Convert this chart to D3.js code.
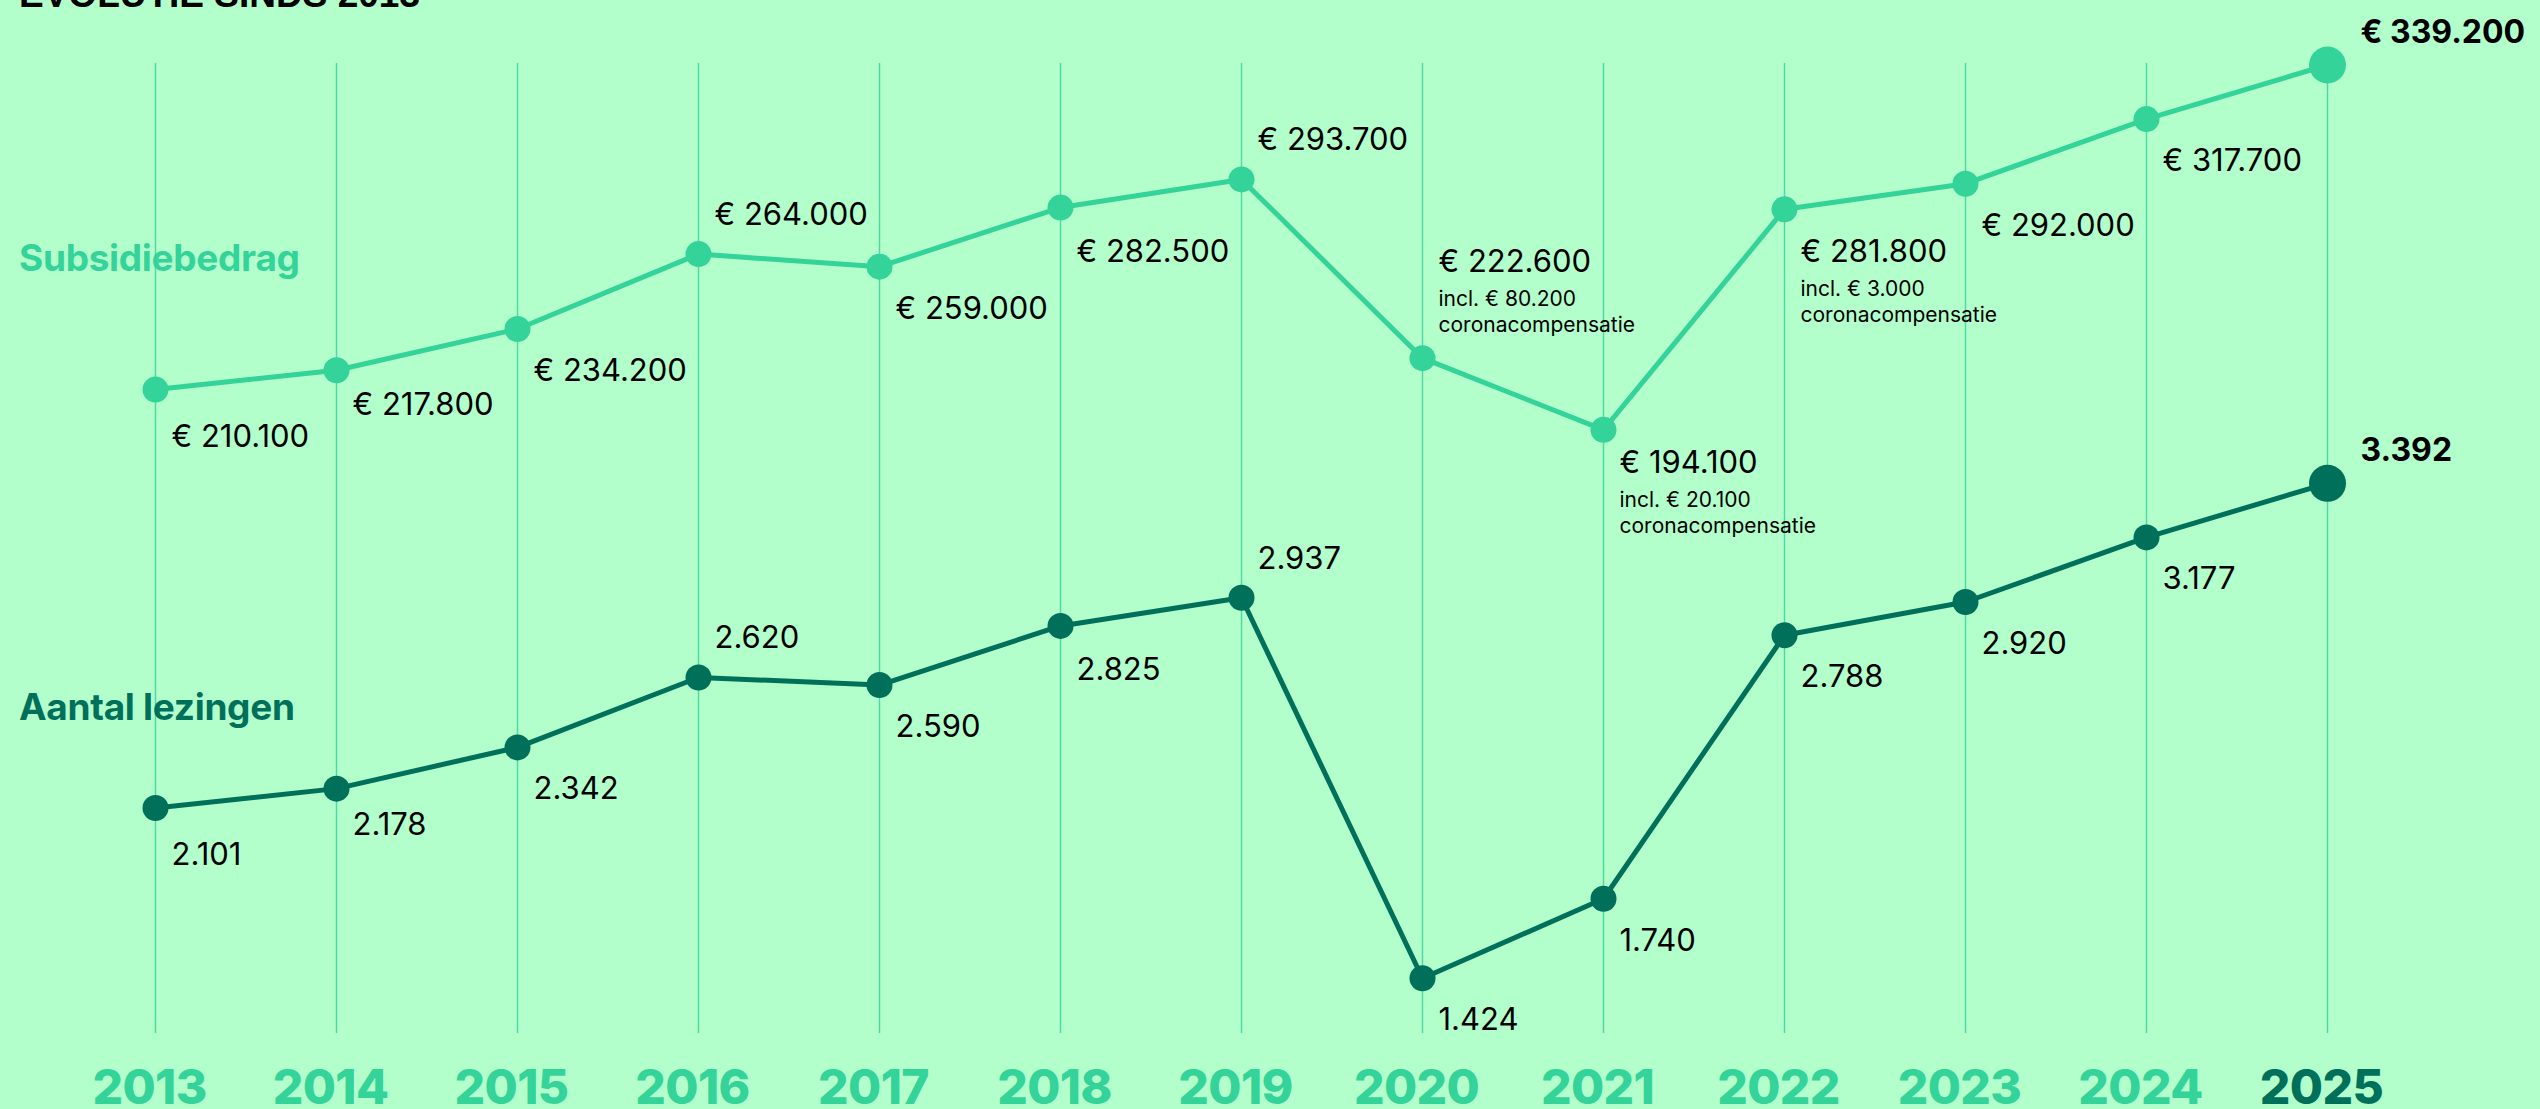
<!DOCTYPE html>
<html>
<head>
<meta charset="utf-8">
<script src="https://cdn.jsdelivr.net/npm/d3@7"></script>
<style>
  body { margin: 0; background: #b3ffcc; }
  svg { display: block; }
</style>
</head>
<body>
<svg id="chart" width="2540" height="1109"></svg>
<script>
// data
var years = [2013, 2014, 2015, 2016, 2017, 2018, 2019, 2020, 2021, 2022, 2023, 2024, 2025];
var subsidie = [210100, 217800, 234200, 264000, 259000, 282500, 293700, 222600, 194100, 281800, 292000, 317700, 339200];
var coronaCompensatie = [null, null, null, null, null, null, null, 80200, 20100, 3000, null, null, null];
var lezingen = [2101, 2178, 2342, 2620, 2590, 2825, 2937, 1424, 1740, 2788, 2920, 3177, 3392];
// where the value label sits relative to its dot
var subsidieLabelPos = ["below", "below", "below", "above", "below", "below", "above", "above", "below", "below", "below", "below", "last"];
var lezingenLabelPos = ["below", "below", "below", "above", "below", "below", "above", "below", "below", "below", "below", "below", "last"];
// small vertical nudges of the labels, as placed in the original
var subsidieNudge = [5, -7, 0, 0, 0, 2, 0, 0, -9, 1, 0, 0, 0];
var lezingenNudge = [5, -6, 0, 0, 0, 2, 0, 0, 0, 0, 0, 0, 0];

var lightGreen = "#34d399",
    darkGreen = "#00705a",
    gridColor = "#4fd9a2";

var svg = d3.select("#chart");

svg.append("rect")
    .attr("width", 2540)
    .attr("height", 1109)
    .attr("fill", "#b3ffcc");

var x = d3.scaleLinear().domain([2013, 2025]).range([155.5, 2327.5]);
var ySub = d3.scaleLinear().domain([200000, 340000]).range([415, 63]);
var yLez = d3.scaleLinear().domain([1400, 3400]).range([984.3, 481.3]);

var nl = d3.formatLocale({decimal: ",", thousands: ".", grouping: [3], currency: ["€ ", ""]});
var fmtNum = nl.format(",d");
var fmtEuro = function(v) { return "€ " + fmtNum(v); };

// title (cut off at the top in the original)
svg.append("text")
    .attr("x", 19)
    .attr("y", 7)
    .attr("font-family", "Liberation Sans, Arial, sans-serif")
    .attr("font-weight", "bold")
    .attr("font-size", 37)
    .attr("fill", "#000")
    .text("EVOLUTIE SINDS 2013");

// vertical gridlines
svg.append("g")
    .selectAll("line")
    .data(years)
    .enter()
    .append("line")
    .attr("x1", function(d) { return x(d); })
    .attr("x2", function(d) { return x(d); })
    .attr("y1", 63)
    .attr("y2", 1033)
    .attr("stroke", gridColor)
    .attr("stroke-width", 1.5);

// series names
svg.append("text")
    .attr("x", 19)
    .attr("y", 271)
    .attr("font-family", "Inter, sans-serif")
    .attr("font-weight", 700)
    .attr("font-size", 37)
    .attr("letter-spacing", -0.3)
    .attr("fill", lightGreen)
    .text("Subsidiebedrag");

svg.append("text")
    .attr("x", 19)
    .attr("y", 720)
    .attr("font-family", "Inter, sans-serif")
    .attr("font-weight", 700)
    .attr("font-size", 37)
    .attr("letter-spacing", -0.3)
    .attr("fill", darkGreen)
    .text("Aantal lezingen");

function drawSeries(values, y, color, labelPos, nudge, fmt, notes) {
    var g = svg.append("g");
    var line = d3.line()
        .x(function(d, i) { return x(years[i]); })
        .y(function(d) { return y(d); });

    g.append("path")
        .datum(values)
        .attr("d", line)
        .attr("fill", "none")
        .attr("stroke", color)
        .attr("stroke-width", 5)
        .attr("stroke-linejoin", "round");

    g.selectAll("circle")
        .data(values)
        .enter()
        .append("circle")
        .attr("cx", function(d, i) { return x(years[i]); })
        .attr("cy", function(d) { return y(d); })
        .attr("r", function(d, i) { return i == values.length - 1 ? 18.5 : 13; })
        .attr("fill", color);

    var labels = g.selectAll("g.lbl")
        .data(values)
        .enter()
        .append("g")
        .attr("class", "lbl")
        .attr("transform", function(d, i) {
            var pos = labelPos[i];
            var hasNote = notes && notes[i] != null;
            var dx = 16, dy = 52;
            if (pos == "above") dy = hasNote ? -86 : -29;
            if (pos == "last") { dx = 33; dy = -22; }
            return "translate(" + (x(years[i]) + dx) + "," + (y(d) + dy + nudge[i]) + ")";
        });

    labels.append("text")
        .attr("font-family", "Inter, sans-serif")
        .attr("font-size", function(d, i) { return labelPos[i] == "last" ? 32 : 31; })
        .attr("font-weight", function(d, i) { return labelPos[i] == "last" ? 700 : 400; })
        .attr("fill", "#000")
        .text(function(d) { return fmt(d); });

    if (notes) {
        labels.filter(function(d, i) { return notes[i] != null; })
            .each(function(d) {
                var idx = values.indexOf(d);
                var gg = d3.select(this);
                gg.append("text")
                    .attr("y", 34)
                    .attr("font-family", "Inter, sans-serif")
                    .attr("font-size", 21)
                    .attr("fill", "#000")
                    .text("incl. " + fmtEuro(notes[idx]));
                gg.append("text")
                    .attr("y", 60)
                    .attr("font-family", "Inter, sans-serif")
                    .attr("font-size", 21)
                    .attr("fill", "#000")
                    .text("coronacompensatie");
            });
    }
}

drawSeries(subsidie, ySub, lightGreen, subsidieLabelPos, subsidieNudge, fmtEuro, coronaCompensatie);
drawSeries(lezingen, yLez, darkGreen, lezingenLabelPos, lezingenNudge, fmtNum, null);

// year labels
svg.append("g")
    .selectAll("text")
    .data(years)
    .enter()
    .append("text")
    .attr("x", function(d) { return x(d) - 6; })
    .attr("y", 1104)
    .attr("text-anchor", "middle")
    .attr("font-family", "Inter, sans-serif")
    .attr("font-weight", 800)
    .attr("font-size", 48)
    .attr("letter-spacing", -0.6)
    .attr("fill", function(d, i) { return i == years.length - 1 ? darkGreen : lightGreen; })
    .text(function(d) { return d; });
</script>
</body>
</html>
